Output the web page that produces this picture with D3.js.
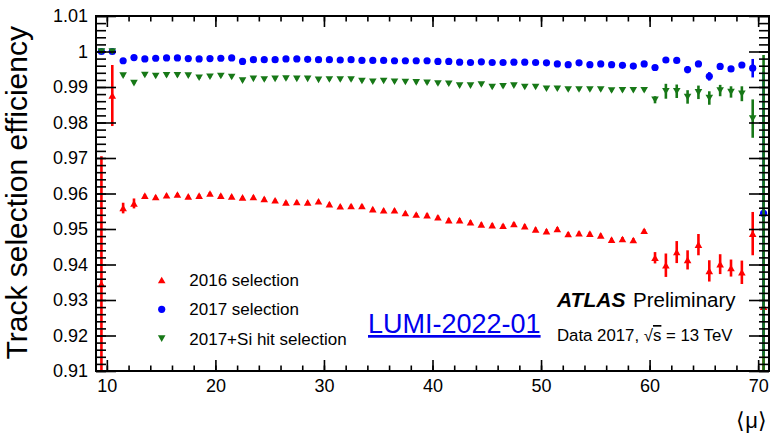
<!DOCTYPE html>
<html>
<head>
<meta charset="utf-8">
<script src="https://cdn.jsdelivr.net/npm/d3@7"></script>
<style>
  body { margin: 0; background: #fff; }
  svg { display: block; font-family: "Liberation Sans", Arial, Helvetica, sans-serif; }
</style>
</head>
<body>
<svg width="778" height="433"></svg>
<script>
// bin centres of <mu>
const mu = [
  9.5, 10.5, 11.5, 12.5, 13.5, 14.5, 15.5, 16.5, 17.5, 18.5,
  19.5, 20.5, 21.5, 22.5, 23.5, 24.5, 25.5, 26.5, 27.5, 28.5,
  29.5, 30.5, 31.5, 32.5, 33.5, 34.5, 35.5, 36.5, 37.5, 38.5,
  39.5, 40.5, 41.5, 42.5, 43.5, 44.5, 45.5, 46.5, 47.5, 48.5,
  49.5, 50.5, 51.5, 52.5, 53.5, 54.5, 55.5, 56.5, 57.5, 58.5,
  59.5, 60.5, 61.5, 62.5, 63.5, 64.5, 65.5, 66.5, 67.5, 68.5,
  69.5, 70.5
];

const eff2016 = [
  0.9345, 0.9876, 0.9559, 0.9572, 0.9594, 0.9590, 0.9595, 0.9597, 0.9592, 0.9594,
  0.9600, 0.9594, 0.9592, 0.9589, 0.9590, 0.9585, 0.9581, 0.9575, 0.9576, 0.9575,
  0.9578, 0.9570, 0.9564, 0.9565, 0.9565, 0.9556, 0.9553, 0.9553, 0.9545, 0.9541,
  0.9539, 0.9533, 0.9525, 0.9525, 0.9519, 0.9513, 0.9511, 0.9509, 0.9514, 0.9508,
  0.9499, 0.9494, 0.9500, 0.9486, 0.9488, 0.9487, 0.9482, 0.9470, 0.9472, 0.9469,
  0.9495, 0.9419, 0.9398, 0.9435, 0.9413, 0.9456, 0.9382, 0.9401, 0.9390, 0.9378,
  0.9487, 0.9281
];
const err2016 = [
  0.0360, 0.0086, 0.0015, 0.0014, 0.0004, 0.0004, 0.0004, 0.0004, 0.0004, 0.0004,
  0.0004, 0.0004, 0.0004, 0.0004, 0.0004, 0.0004, 0.0004, 0.0004, 0.0004, 0.0004,
  0.0004, 0.0004, 0.0004, 0.0004, 0.0004, 0.0004, 0.0004, 0.0004, 0.0004, 0.0004,
  0.0005, 0.0005, 0.0005, 0.0005, 0.0005, 0.0005, 0.0005, 0.0005, 0.0005, 0.0005,
  0.0005, 0.0005, 0.0005, 0.0005, 0.0005, 0.0005, 0.0005, 0.0005, 0.0005, 0.0005,
  0.0005, 0.0016, 0.0033, 0.0031, 0.0027, 0.0030, 0.0030, 0.0028, 0.0024, 0.0033,
  0.0061, 0.0300
];

const eff2017 = [
  1.0000, 1.0000, 0.9974, 0.9983, 0.9979, 0.9981, 0.9982, 0.9982, 0.9980, 0.9979,
  0.9980, 0.9981, 0.9982, 0.9972, 0.9977, 0.9977, 0.9977, 0.9979, 0.9979, 0.9978,
  0.9977, 0.9977, 0.9976, 0.9977, 0.9975, 0.9975, 0.9975, 0.9974, 0.9974, 0.9974,
  0.9974, 0.9972, 0.9972, 0.9970, 0.9969, 0.9971, 0.9969, 0.9969, 0.9970, 0.9970,
  0.9969, 0.9968, 0.9965, 0.9963, 0.9968, 0.9963, 0.9965, 0.9963, 0.9961, 0.9959,
  0.9965, 0.9955, 0.9976, 0.9975, 0.9949, 0.9965, 0.9930, 0.9958, 0.9951, 0.9962,
  0.9953, 0.9544
];
const err2017 = [
  0.0002, 0.0002, 0.0002, 0.0002, 0.0002, 0.0002, 0.0002, 0.0002, 0.0002, 0.0002,
  0.0002, 0.0002, 0.0002, 0.0002, 0.0002, 0.0002, 0.0002, 0.0002, 0.0002, 0.0002,
  0.0002, 0.0002, 0.0002, 0.0002, 0.0002, 0.0002, 0.0002, 0.0002, 0.0002, 0.0002,
  0.0002, 0.0002, 0.0002, 0.0002, 0.0002, 0.0002, 0.0002, 0.0002, 0.0002, 0.0002,
  0.0002, 0.0002, 0.0002, 0.0002, 0.0002, 0.0002, 0.0002, 0.0002, 0.0002, 0.0002,
  0.0002, 0.0005, 0.0006, 0.0006, 0.0010, 0.0007, 0.0012, 0.0007, 0.0007, 0.0008,
  0.0026, 0.0400
];

const effSiHit = [
  1.0000, 1.0000, 0.9932, 0.9911, 0.9934, 0.9931, 0.9933, 0.9933, 0.9932, 0.9926,
  0.9929, 0.9931, 0.9928, 0.9918, 0.9923, 0.9921, 0.9923, 0.9924, 0.9923, 0.9923,
  0.9920, 0.9921, 0.9921, 0.9921, 0.9917, 0.9915, 0.9917, 0.9915, 0.9914, 0.9913,
  0.9912, 0.9910, 0.9909, 0.9904, 0.9904, 0.9907, 0.9900, 0.9902, 0.9904, 0.9900,
  0.9900, 0.9895, 0.9895, 0.9893, 0.9893, 0.9893, 0.9893, 0.9890, 0.9891, 0.9891,
  0.9891, 0.9864, 0.9888, 0.9888, 0.9872, 0.9885, 0.9869, 0.9890, 0.9886, 0.9881,
  0.9811, 0.9050
];
const errSiHit = [
  0.0003, 0.0003, 0.0003, 0.0003, 0.0003, 0.0003, 0.0003, 0.0003, 0.0003, 0.0003,
  0.0003, 0.0003, 0.0003, 0.0003, 0.0003, 0.0003, 0.0003, 0.0003, 0.0003, 0.0003,
  0.0003, 0.0003, 0.0003, 0.0003, 0.0003, 0.0003, 0.0003, 0.0003, 0.0003, 0.0003,
  0.0003, 0.0003, 0.0003, 0.0003, 0.0003, 0.0003, 0.0003, 0.0003, 0.0003, 0.0003,
  0.0003, 0.0003, 0.0003, 0.0003, 0.0003, 0.0003, 0.0003, 0.0003, 0.0003, 0.0003,
  0.0003, 0.0010, 0.0021, 0.0019, 0.0019, 0.0019, 0.0019, 0.0016, 0.0016, 0.0021,
  0.0054, 0.0940
];

const legendLabels = ["2016 selection", "2017 selection", "2017+Si hit selection"];
const xTickValues = [10, 20, 30, 40, 50, 60, 70];
const yTickValues = [0.91, 0.92, 0.93, 0.94, 0.95, 0.96, 0.97, 0.98, 0.99, 1.00, 1.01];
const yTickLabels = ["0.91", "0.92", "0.93", "0.94", "0.95", "0.96", "0.97", "0.98", "0.99", "1", "1.01"];

const width = 778;
const height = 433;
const frameL = 96, frameR = 769, frameT = 16, frameB = 371;

const svg = d3.select("svg").attr("viewBox", [0, 0, width, height]);

const x = d3.scaleLinear().domain([9, 71]).range([frameL, frameR]);
const y = d3.scaleLinear().domain([0.91, 1.01]).range([frameB, frameT]);

// marker shapes (ROOT style 22, 20, 23)
const upTri = "M0,-3.3L3.8,3.3L-3.8,3.3Z";
const downTri = "M0,3.3L3.8,-3.3L-3.8,-3.3Z";

const series = [
  { name: legendLabels[0], vals: eff2016, errs: err2016, color: "#ff0000", shape: "up" },
  { name: legendLabels[1], vals: eff2017, errs: err2017, color: "#0000ff", shape: "circle" },
  { name: legendLabels[2], vals: effSiHit, errs: errSiHit, color: "#177817", shape: "down" }
];

function drawMarker(sel, s) {
  if (s.shape === "circle") {
    sel.append("circle").attr("r", 3.6).attr("fill", s.color);
  } else {
    sel.append("path").attr("d", s.shape === "up" ? upTri : downTri).attr("fill", s.color);
  }
}

svg.append("defs").append("clipPath").attr("id", "frame")
  .append("rect")
  .attr("x", frameL).attr("y", frameT)
  .attr("width", frameR - frameL).attr("height", frameB - frameT);

const plot = svg.append("g").attr("clip-path", "url(#frame)");

series.forEach((s) => {
  const pts = mu.map((m, i) => ({ m, v: s.vals[i], e: s.errs[i] }));
  const g = plot.append("g");
  g.selectAll("line")
    .data(pts)
    .join("line")
    .attr("x1", (d) => x(d.m))
    .attr("x2", (d) => x(d.m))
    .attr("y1", (d) => y(d.v - d.e))
    .attr("y2", (d) => y(d.v + d.e))
    .attr("stroke", s.color)
    .attr("stroke-width", 2.6);
  g.selectAll("g.pt")
    .data(pts)
    .join("g")
    .attr("class", "pt")
    .attr("transform", (d) => `translate(${x(d.m)},${y(d.v)})`)
    .each(function () { drawMarker(d3.select(this), s); });
});

// axes: ticks on all four sides, pointing inward
const xMinor = d3.range(10, 71, 2);
const yMinor = d3.range(0, 51).map((i) => 0.91 + i * 0.002);

function styleAxis(g) {
  g.select(".domain").remove();
  g.selectAll("line").attr("stroke", "#000").attr("stroke-width", 1.6);
  g.attr("font-family", null).attr("font-size", 18);
  g.selectAll("text").attr("fill", "#000");
}

svg.append("g")
  .attr("transform", `translate(0,${frameB})`)
  .call(d3.axisBottom(x).tickValues(xMinor).tickSize(-5.5).tickFormat(""))
  .call(styleAxis);
svg.append("g")
  .attr("transform", `translate(0,${frameB})`)
  .call(d3.axisBottom(x).tickValues(xTickValues).tickSize(-11).tickPadding(8).tickFormat(d3.format("d")))
  .call(styleAxis);
svg.append("g")
  .attr("transform", `translate(0,${frameT})`)
  .call(d3.axisTop(x).tickValues(xMinor).tickSize(-5.5).tickFormat(""))
  .call(styleAxis);
svg.append("g")
  .attr("transform", `translate(0,${frameT})`)
  .call(d3.axisTop(x).tickValues(xTickValues).tickSize(-11).tickFormat(""))
  .call(styleAxis);

svg.append("g")
  .attr("transform", `translate(${frameL},0)`)
  .call(d3.axisLeft(y).tickValues(yMinor).tickSize(-10).tickFormat(""))
  .call(styleAxis);
svg.append("g")
  .attr("transform", `translate(${frameL},0)`)
  .call(d3.axisLeft(y).tickValues(yTickValues).tickSize(-20).tickPadding(8)
    .tickFormat((d, i) => yTickLabels[i]))
  .call(styleAxis);
svg.append("g")
  .attr("transform", `translate(${frameR},0)`)
  .call(d3.axisRight(y).tickValues(yMinor).tickSize(-10).tickFormat(""))
  .call(styleAxis);
svg.append("g")
  .attr("transform", `translate(${frameR},0)`)
  .call(d3.axisRight(y).tickValues(yTickValues).tickSize(-20).tickFormat(""))
  .call(styleAxis);

svg.append("rect")
  .attr("x", frameL).attr("y", frameT)
  .attr("width", frameR - frameL).attr("height", frameB - frameT)
  .attr("fill", "none").attr("stroke", "#000").attr("stroke-width", 2);

// axis titles
svg.append("text")
  .attr("transform", `translate(27,26) rotate(-90)`)
  .attr("text-anchor", "end")
  .attr("font-size", 30)
  .text("Track selection efficiency");

svg.append("text")
  .attr("x", 767).attr("y", 428)
  .attr("text-anchor", "end")
  .attr("font-size", 22)
  .text("\u27e8\u03bc\u27e9");

// legend
const legend = svg.append("g");
series.forEach((s, i) => {
  const row = legend.append("g").attr("transform", `translate(161.7,${280 + i * 29.3})`);
  drawMarker(row, s);
  row.append("text")
    .attr("x", 27.6).attr("dy", "0.36em")
    .attr("font-size", 17)
    .text(s.name);
});

// labels
svg.append("text")
  .attr("x", 557).attr("y", 306.5)
  .attr("font-size", 21)
  .attr("font-weight", "bold").attr("font-style", "italic")
  .text("ATLAS");
svg.append("text")
  .attr("x", 633).attr("y", 306.5)
  .attr("font-size", 20.5)
  .text("Preliminary");

const energy = svg.append("text")
  .attr("x", 557).attr("y", 341)
  .attr("font-size", 16.8);
energy.append("tspan").text("Data 2017, \u221a");
energy.append("tspan").style("text-decoration", "overline").text("s");
energy.append("tspan").text(" = 13 TeV");

svg.append("text")
  .attr("x", 368).attr("y", 333)
  .attr("font-size", 27)
  .attr("fill", "#0000ee")
  .style("text-decoration", "underline")
  .text("LUMI-2022-01");
</script>
</body>
</html>
